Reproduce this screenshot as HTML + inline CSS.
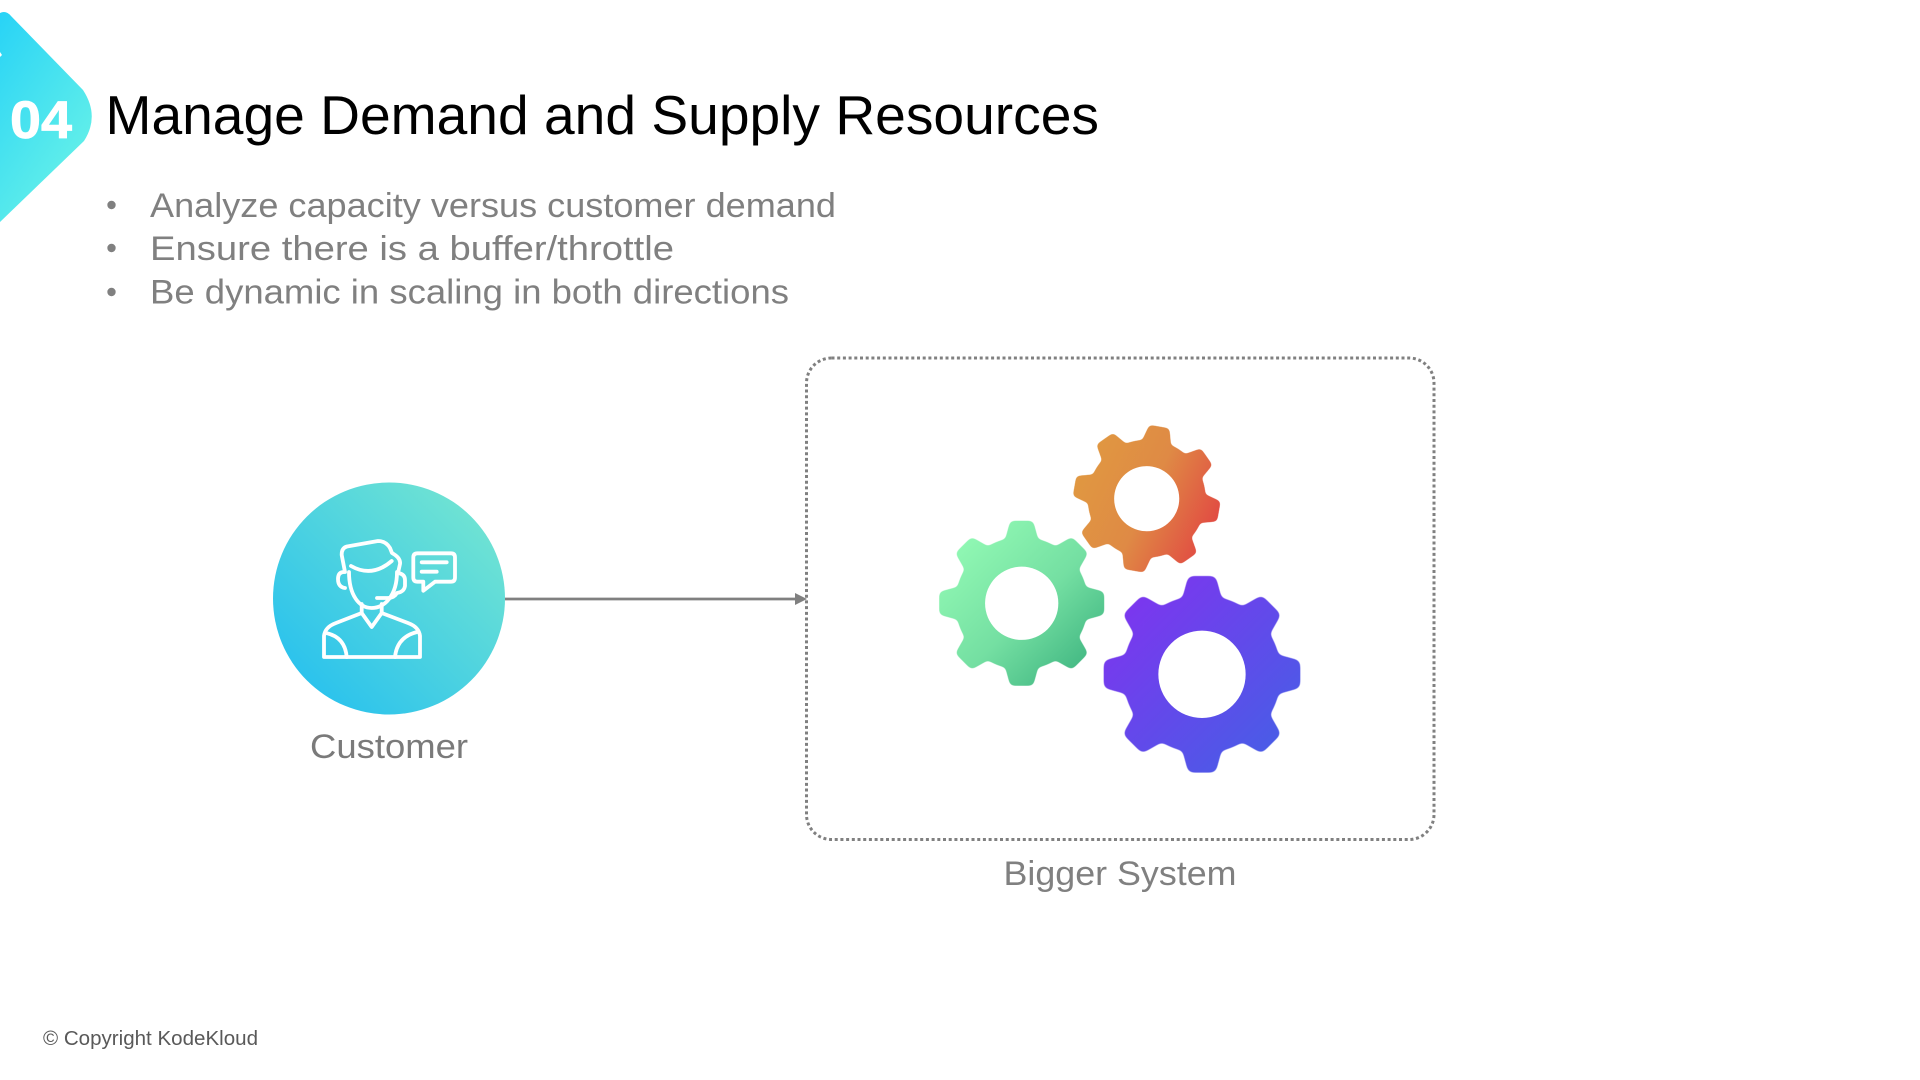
<!DOCTYPE html>
<html lang="en">
<head>
<meta charset="utf-8">
<title>Manage Demand and Supply Resources</title>
<style>
html,body{margin:0;padding:0;background:#fff;width:1920px;height:1080px;overflow:hidden}
svg{display:block}
text{font-family:"Liberation Sans",sans-serif}
</style>
</head>
<body>
<svg width="1920" height="1080" viewBox="0 0 1920 1080" xmlns="http://www.w3.org/2000/svg">
<defs>
  <linearGradient id="badge" x1="0" y1="0" x2="0.65" y2="1">
    <stop offset="0" stop-color="#28d3f6"/><stop offset="1" stop-color="#68f2e8"/>
  </linearGradient>
  <linearGradient id="circ" x1="0.1" y1="0.9" x2="0.9" y2="0.1">
    <stop offset="0" stop-color="#28c1ee"/><stop offset="1" stop-color="#72e4d2"/>
  </linearGradient>
  <linearGradient id="gGreen" x1="0.1" y1="0.1" x2="0.9" y2="0.9">
    <stop offset="0" stop-color="#95fcb6"/><stop offset="0.55" stop-color="#74dfa2"/><stop offset="1" stop-color="#3bb27e"/>
  </linearGradient>
  <linearGradient id="gOrange" x1="0.05" y1="0.3" x2="0.95" y2="0.72">
    <stop offset="0" stop-color="#e09a40"/><stop offset="0.5" stop-color="#df8a45"/><stop offset="1" stop-color="#e23e42"/>
  </linearGradient>
  <linearGradient id="gPurple" x1="0.1" y1="0.1" x2="0.9" y2="0.9">
    <stop offset="0" stop-color="#8033ef"/><stop offset="1" stop-color="#455fe6"/>
  </linearGradient>

  <filter id="soft" x="-20%" y="-20%" width="140%" height="140%" color-interpolation-filters="sRGB">
    <feGaussianBlur stdDeviation="2.6"/>
    <feComponentTransfer>
      <feFuncA type="linear" slope="6" intercept="-2.5"/>
    </feComponentTransfer>
  </filter>

  <path id="tooth" d="M-21,-74 L-15,-96 Q-14,-100 -10,-100 L10,-100 Q14,-100 15,-96 L21,-74 Z"/>
  <g id="gearShape" fill="#fff" filter="url(#soft)">
    <circle r="80.5"/>
    <use href="#tooth"/>
    <use href="#tooth" transform="rotate(45)"/>
    <use href="#tooth" transform="rotate(90)"/>
    <use href="#tooth" transform="rotate(135)"/>
    <use href="#tooth" transform="rotate(180)"/>
    <use href="#tooth" transform="rotate(225)"/>
    <use href="#tooth" transform="rotate(270)"/>
    <use href="#tooth" transform="rotate(315)"/>
  </g>
  <mask id="mGear" maskContentUnits="userSpaceOnUse" x="-110" y="-110" width="220" height="220" maskUnits="userSpaceOnUse">
    <use href="#gearShape"/>
    <circle r="44.4" fill="#000"/>
  </mask>
</defs>

<rect width="1920" height="1080" fill="#fff"/>

<!-- Badge -->
<path d="M0,13 Q6,10 11,16 L83,90 Q100,116 84,141 L0,222 Z" fill="url(#badge)"/>
<path d="M0,52 L2,55 L0,57 Z" fill="#fff"/>
<text x="10" y="138" font-size="53" font-weight="700" fill="#fff" stroke="#fff" stroke-width="0.8" textLength="62" lengthAdjust="spacingAndGlyphs">04</text>

<!-- Title -->
<text x="105.5" y="134" font-size="55" fill="#000" textLength="993.5" lengthAdjust="spacingAndGlyphs">Manage Demand and Supply Resources</text>

<!-- Bullets -->
<g fill="#808080">
  <circle cx="111.5" cy="205" r="4.2"/>
  <circle cx="111.5" cy="248" r="4.2"/>
  <circle cx="111.5" cy="292" r="4.2"/>
  <text x="150" y="217" font-size="34.5" textLength="686" lengthAdjust="spacingAndGlyphs">Analyze capacity versus customer demand</text>
  <text x="150" y="260" font-size="34.5" textLength="524" lengthAdjust="spacingAndGlyphs">Ensure there is a buffer/throttle</text>
  <text x="150" y="303.5" font-size="34.5" textLength="639" lengthAdjust="spacingAndGlyphs">Be dynamic in scaling in both directions</text>
</g>

<!-- Customer circle -->
<circle cx="389" cy="598.5" r="116" fill="url(#circ)"/>
<g fill="none" stroke="#fff" stroke-width="3.8" stroke-linecap="round" stroke-linejoin="round">
  <!-- body -->
  <path d="M324,657 H420 V636 Q419,627 408,623 L381.7,613 L371.7,627 L361.7,613 L336,623 Q325,627 324,636 Z"/>
  <path d="M326,633 Q345,637 346.7,657"/>
  <path d="M417,632 Q397,637 395,657"/>
  <path d="M361.7,613 V604"/>
  <path d="M381.7,613 V604"/>
  <!-- face -->
  <path d="M349,572 C349,595 359,608 371.7,608 C385,608 397,595 397,572"/>
  <!-- hair -->
  <path d="M345,572 L341.7,555 Q341.5,548 347,546.5 L378,541 Q386,541 390,548 L392,553 Q401,558 400,564 L398,573"/>
  <path d="M351,566 Q372,578 391.7,561"/>
  <!-- ear -->
  <path d="M344,572 Q338,572 338,579 Q338,587 345,588"/>
  <!-- headset -->
  <path d="M398,573 Q405,574 405,580 L405,586 Q404,592 397,593 Q394,598 388,598 L377,598"/>
  <!-- bubble -->
  <path d="M417.5,553.3 H451 Q455,553.3 455,557.5 V577.5 Q455,581.7 451,581.7 H435 L423.3,590.7 V581.7 H417.5 Q413.3,581.7 413.3,577.5 V557.5 Q413.3,553.3 417.5,553.3 Z"/>
  <path d="M421.7,562.3 H446.7"/>
  <path d="M421.7,571.7 H436.7"/>
</g>
<text x="310" y="758" font-size="34" fill="#7a7a7a" textLength="158" lengthAdjust="spacingAndGlyphs">Customer</text>

<!-- Arrow -->
<line x1="505" y1="599" x2="797" y2="599" stroke="#808080" stroke-width="2.8"/>
<path d="M795,593 L807,599 L795,605 Z" fill="#808080"/>

<!-- Dotted box -->
<rect x="806.5" y="358" width="627.5" height="481.5" rx="25" ry="25" fill="none" stroke="#808080" stroke-width="3" stroke-dasharray="3 2.7"/>
<text x="1003.5" y="885" font-size="34.5" fill="#808080" textLength="233" lengthAdjust="spacingAndGlyphs">Bigger System</text>

<!-- Gears -->
<g transform="translate(1146.7,498.7) rotate(10) scale(0.733)">
  <g mask="url(#mGear)"><g transform="rotate(-10)"><rect x="-120" y="-120" width="240" height="240" fill="url(#gOrange)"/></g></g>
</g>
<g transform="translate(1021.7,603.3) scale(0.825)">
  <g mask="url(#mGear)"><rect x="-110" y="-110" width="220" height="220" fill="url(#gGreen)"/></g>
</g>
<g transform="translate(1202,674.3) scale(0.983)">
  <g mask="url(#mGear)"><rect x="-110" y="-110" width="220" height="220" fill="url(#gPurple)"/></g>
</g>

<!-- Footer -->
<text x="43" y="1045" font-size="20.5" fill="#595959" textLength="215" lengthAdjust="spacingAndGlyphs">© Copyright KodeKloud</text>
</svg>
</body>
</html>
